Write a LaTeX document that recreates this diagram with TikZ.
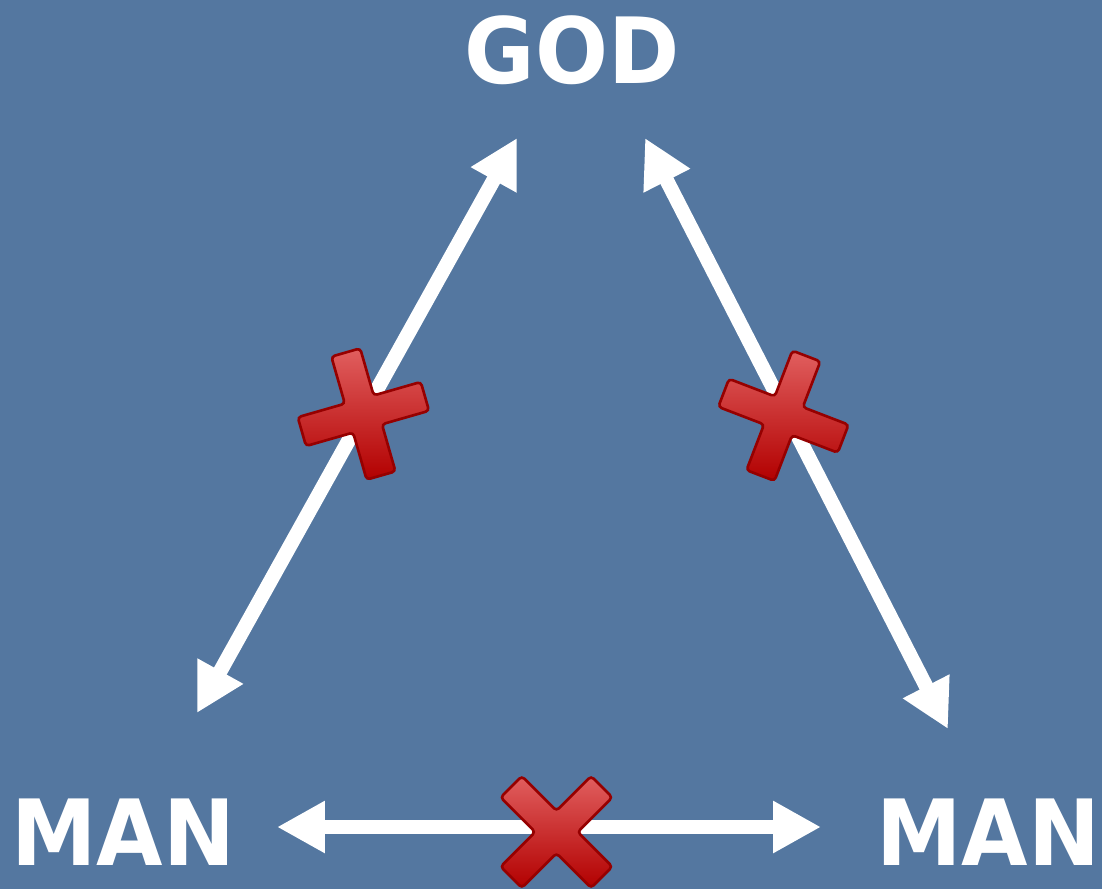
\documentclass[tikz,border=0pt]{standalone}
\usepackage{fontspec}
\newfontfamily\labelfont{DejaVu Sans}
\usetikzlibrary{arrows.meta}
\definecolor{slate}{RGB}{84,119,160}
\definecolor{xlight}{RGB}{225,95,95}
\definecolor{xred}{RGB}{238,0,0}
\definecolor{xdark}{RGB}{178,0,0}
\definecolor{xedge}{RGB}{150,0,0}

\begin{document}
\begin{tikzpicture}[x=0.02cm, y=-0.02cm,
    word/.style={text=white, font=\labelfont\bfseries\fontsize{52}{52}\selectfont, inner sep=0pt, anchor=base, xscale=0.94, transform shape},
    link/.style={white, line width=0.29cm, {Triangle[length=0.96cm,width=0.98cm]}-{Triangle[length=0.96cm,width=0.98cm]}},
    redx/.pic={
        \shade[top color=xlight, middle color=xred, bottom color=xdark, draw=xedge, line width=1.5pt, rounded corners=2pt]
            (-15,-64) -- (15,-64) -- (15,-15) -- (64,-15) -- (64,15) -- (15,15) -- (15,64)
            -- (-15,64) -- (-15,15) -- (-64,15) -- (-64,-15) -- (-15,-15) -- cycle;
    }]
    % Background
    \fill[slate] (0,0) rectangle (1102,889);
    \useasboundingbox (0,0) rectangle (1102,889);

    % Words
    \node[word] (god) at (572,83) {GOD};
    \node[word] (manl) at (123,865) {MAN};
    \node[word] (manr) at (988,865) {MAN};

    % Arrow ends
    \coordinate (god-w) at (517,138);
    \coordinate (god-e) at (645,138);
    \coordinate (manl-n) at (197,713);
    \coordinate (manl-e) at (277,827);
    \coordinate (manr-n) at (948,729);
    \coordinate (manr-w) at (821,827);

    % Arrows
    \draw[link] (god-w) -- (manl-n) coordinate[pos=0.48] (cut-l);
    \draw[link] (god-e) -- (manr-n) coordinate[pos=0.47] (cut-r);
    \draw[link] (manl-e) -- (manr-w) coordinate[pos=0.51] (cut-b);

    % Crosses
    \pic[rotate=16] at (cut-l) {redx};
    \pic[rotate=-21] at ([xshift=-0.08cm]cut-r) {redx};
    \pic[rotate=45] at ([xshift=0.04cm,yshift=-0.1cm]cut-b) {redx};
\end{tikzpicture}
\end{document}
